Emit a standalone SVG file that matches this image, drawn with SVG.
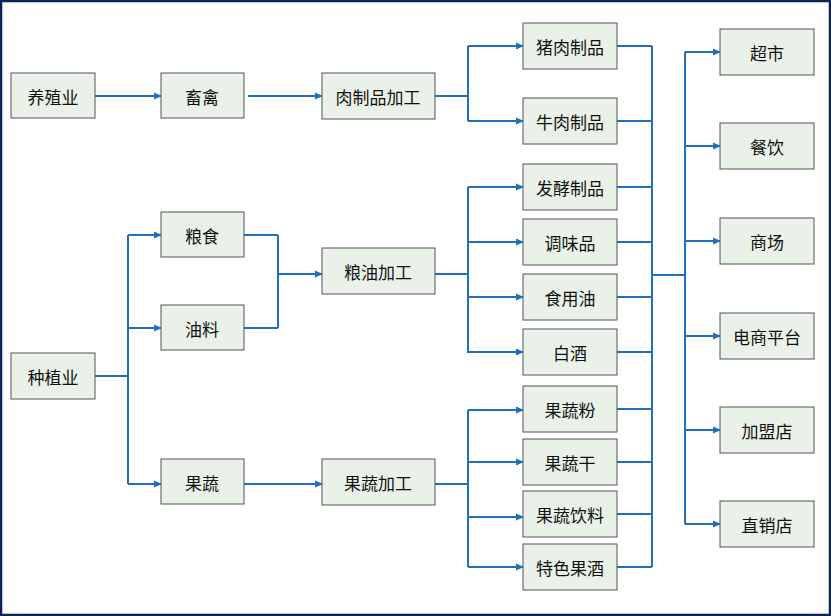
<svg xmlns="http://www.w3.org/2000/svg" width="831" height="616" viewBox="0 0 831 616">
<defs>
<marker id="a" markerWidth="8" markerHeight="8" refX="7" refY="4" orient="auto" markerUnits="userSpaceOnUse"><path d="M0,0.5 L8,4 L0,7.5 z" fill="#1f6fbf"/></marker>
<style>
.n rect{fill:#e9f1e8;stroke:#555;stroke-width:1}
.n text{font-family:"Noto Sans CJK SC","Liberation Sans",sans-serif;font-size:17px;fill:#111;text-anchor:middle;dominant-baseline:central}
#c path{fill:none;stroke:#1f6fbf;stroke-width:2}
#c .ar{marker-end:url(#a)}
</style>
</defs>
<rect x="1" y="1" width="829" height="614" fill="#fff" stroke="#0d2257" stroke-width="2.5"/>
<g id="c">
<path class="ar" d="M95,96H161"/>
<path class="ar" d="M248,96H322"/>
<path d="M435,96H468M468,46V121M95,376H128M128,235V484M244,235H278M244,328H278M278,235V328M435,274H468M468,187V353M435,484H468M468,410V567"/>
<path class="ar" d="M468,46H523"/><path class="ar" d="M468,121H523"/>
<path class="ar" d="M128,235H161"/><path class="ar" d="M128,328H161"/><path class="ar" d="M128,484H161"/>
<path class="ar" d="M278,274H322"/>
<path class="ar" d="M468,187H523"/><path class="ar" d="M468,242H523"/><path class="ar" d="M468,297H523"/><path class="ar" d="M468,352H523"/>
<path class="ar" d="M244,484H322"/>
<path class="ar" d="M468,410H523"/><path class="ar" d="M468,462H523"/><path class="ar" d="M468,517H523"/><path class="ar" d="M468,567H523"/>
<path d="M617,46H652M617,121H652M617,187H652M617,242H652M617,297H652M617,352H652M617,409H652M617,462H652M617,514H652M617,567H652M652,46V567M652,275H685M685,52V524"/>
<path class="ar" d="M685,52H720"/><path class="ar" d="M685,146H720"/><path class="ar" d="M685,241H720"/><path class="ar" d="M685,336H720"/><path class="ar" d="M685,430H720"/><path class="ar" d="M685,524H720"/>
</g>
<g id="n1" class="n"><rect x="11" y="73" width="84" height="45"/><text x="53" y="96">养殖业</text></g>
<g id="n2" class="n"><rect x="161" y="73" width="83" height="45"/><text x="202" y="96">畜禽</text></g>
<g id="n3" class="n"><rect x="322" y="73" width="113" height="46"/><text x="378" y="96">肉制品加工</text></g>
<g id="n4" class="n"><rect x="523" y="23" width="94" height="46"/><text x="570" y="46">猪肉制品</text></g>
<g id="n5" class="n"><rect x="523" y="98" width="94" height="46"/><text x="570" y="121">牛肉制品</text></g>
<g id="n6" class="n"><rect x="523" y="164" width="94" height="46"/><text x="570" y="187">发酵制品</text></g>
<g id="n7" class="n"><rect x="523" y="219" width="94" height="46"/><text x="570" y="242">调味品</text></g>
<g id="n8" class="n"><rect x="523" y="274" width="94" height="46"/><text x="570" y="297">食用油</text></g>
<g id="n9" class="n"><rect x="523" y="329" width="94" height="46"/><text x="570" y="352">白酒</text></g>
<g id="n10" class="n"><rect x="523" y="386" width="94" height="46"/><text x="570" y="409">果蔬粉</text></g>
<g id="n11" class="n"><rect x="523" y="439" width="94" height="46"/><text x="570" y="462">果蔬干</text></g>
<g id="n12" class="n"><rect x="523" y="491" width="94" height="46"/><text x="570" y="514">果蔬饮料</text></g>
<g id="n13" class="n"><rect x="523" y="544" width="94" height="46"/><text x="570" y="567">特色果酒</text></g>
<g id="n14" class="n"><rect x="161" y="212" width="83" height="45"/><text x="202" y="235">粮食</text></g>
<g id="n15" class="n"><rect x="161" y="305" width="83" height="45"/><text x="202" y="328">油料</text></g>
<g id="n16" class="n"><rect x="11" y="353" width="84" height="46"/><text x="53" y="376">种植业</text></g>
<g id="n17" class="n"><rect x="322" y="248" width="113" height="46"/><text x="378" y="271">粮油加工</text></g>
<g id="n18" class="n"><rect x="161" y="459" width="83" height="45"/><text x="202" y="482">果蔬</text></g>
<g id="n19" class="n"><rect x="322" y="459" width="113" height="46"/><text x="378" y="482">果蔬加工</text></g>
<g id="n20" class="n"><rect x="720" y="29" width="94" height="46"/><text x="767" y="52">超市</text></g>
<g id="n21" class="n"><rect x="720" y="123" width="94" height="46"/><text x="767" y="146">餐饮</text></g>
<g id="n22" class="n"><rect x="720" y="218" width="94" height="46"/><text x="767" y="241">商场</text></g>
<g id="n23" class="n"><rect x="720" y="313" width="94" height="46"/><text x="767" y="336">电商平台</text></g>
<g id="n24" class="n"><rect x="720" y="407" width="94" height="46"/><text x="767" y="430">加盟店</text></g>
<g id="n25" class="n"><rect x="720" y="501" width="94" height="46"/><text x="767" y="524">直销店</text></g>
</svg>
